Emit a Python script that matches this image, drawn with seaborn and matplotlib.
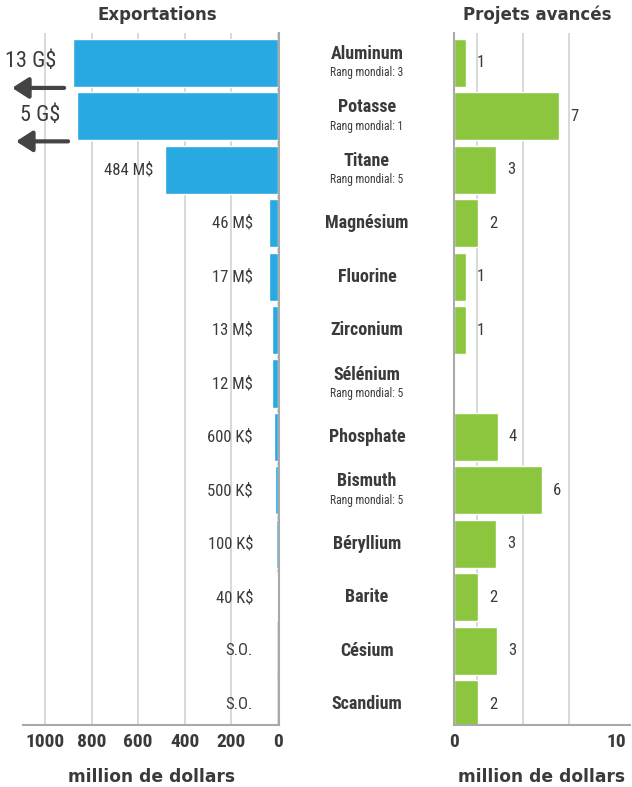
import numpy as np
import pandas as pd
import matplotlib
matplotlib.use("Agg")
import matplotlib.pyplot as plt
import seaborn as sns
from matplotlib import transforms
from matplotlib import font_manager as fm

# Data
minerals = ["Aluminum", "Potasse", "Titane", "Magnésium", "Fluorine", "Zirconium",
            "Sélénium", "Phosphate", "Bismuth", "Béryllium", "Barite", "Césium", "Scandium"]
rank_labels = ["Rang mondial: 3", "Rang mondial: 1", "Rang mondial: 5", "", "", "",
               "Rang mondial: 5", "", "Rang mondial: 5", "", "", "", ""]
export_labels = ["13 G$", "5 G$", "484 M$", "46 M$", "17 M$", "13 M$", "12 M$",
                 "600 K$", "500 K$", "100 K$", "40 K$", "S.O.", "S.O."]
# bar lengths as drawn (million $) -- the two biggest are cut off
export_bar = [879, 862, 484, 40, 40, 26, 26, 17, 12, 9, 6, 0, 0]
project_labels = ["1", "7", "3", "2", "1", "1", "", "4", "6", "3", "2", "3", "2"]
project_bar = [0.74, 6.5, 2.6, 1.48, 0.74, 0.74, 0, 2.7, 5.4, 2.6, 1.48, 2.65, 1.48]
left_ticks = [0, 200, 400, 600, 800, 1000]
right_ticks = [0, 10]
right_grid = [1.42, 4.26, 7.1, 10]

df = pd.DataFrame({"mineral": minerals, "export": export_bar, "projets": project_bar})

sns.set_style("white")

# look for a narrow face, the reference uses a condensed gothic
entries = fm.fontManager.ttflist
names = sorted({f.name for f in entries})
pref = ["Liberation Sans Narrow", "Roboto Condensed", "Open Sans Condensed",
        "DejaVu Sans Condensed", "Noto Sans Condensed", "Arial Narrow"]
family = next((n for n in pref if n in names), None)
if family is None:
    family = next((n for n in names if "Condensed" in n or "Narrow" in n), None)
stretch = "normal"
if family is None:
    cond = [f for f in entries if str(f.stretch) in ("condensed", "semi-condensed", "extra-condensed")]
    if cond:
        family = cond[0].name
        stretch = "condensed"
scale = 1.0
if family is None:
    family = "DejaVu Sans"
    scale = 0.78
plt.rcParams["font.family"] = [family, "DejaVu Sans"]
plt.rcParams["font.stretch"] = stretch
wide = ["DejaVu Sans"]  # headers are letter-spaced in the reference

blue = "#29a9e1"
green = "#8cc63f"
txt = "#3a3a3a"
grid_c = "#d6d6d6"
spine_c = "#a9a9a9"

fig = plt.figure(figsize=(6.32, 7.87), dpi=100)
ax1 = fig.add_axes([23 / 632, 1 - 725 / 787, 256 / 632, 692 / 787])
ax2 = fig.add_axes([454 / 632, 1 - 725 / 787, 176 / 632, 692 / 787])

sns.barplot(data=df, x="export", y="mineral", orient="h", color=blue, width=0.9,
            saturation=1, ax=ax1, zorder=2)
sns.barplot(data=df, x="projets", y="mineral", orient="h", color=green, width=0.9,
            saturation=1, ax=ax2, zorder=2)

ylim = (12.39, -0.56)
ax1.set_xlim(1094, -4)
ax2.set_xlim(0, 10.86)
for ax in (ax1, ax2):
    ax.set_ylim(*ylim)
    ax.set_ylabel("")
    ax.set_yticks([])
    ax.set_axisbelow(True)
    ax.tick_params(axis="x", length=0, pad=6, labelsize=14 * scale, labelcolor=txt)
    ax.set_xlabel("million de dollars", fontsize=12.3, fontweight="bold",
                  family=wide, color=txt, labelpad=12)

ax1.set_xticks(left_ticks)
ax1.set_xticklabels([str(t) for t in left_ticks], fontweight="bold")
ax1.grid(axis="x", color=grid_c, lw=1.3)
ax2.set_xticks(right_ticks)
ax2.set_xticklabels([str(t) for t in right_ticks], fontweight="bold")
ax2.set_xticks(right_grid, minor=True)
ax2.tick_params(axis="x", which="minor", length=0)
ax2.grid(axis="x", which="minor", color=grid_c, lw=1.3)
ax2.grid(axis="x", which="major", visible=False)

for side in ["top", "left"]:
    ax1.spines[side].set_visible(False)
for side in ["top", "right"]:
    ax2.spines[side].set_visible(False)
for sp in [ax1.spines["right"], ax1.spines["bottom"], ax2.spines["left"], ax2.spines["bottom"]]:
    sp.set_color(spine_c)
    sp.set_linewidth(1.5)

# export value labels
for i, (lab, val) in enumerate(zip(export_labels, export_bar)):
    if val > 800:
        ax1.annotate(lab, xy=(val, i), xytext=(-17, 1), textcoords="offset pixels",
                     ha="right", va="center", fontsize=16 * scale, color=txt,
                     annotation_clip=False)
        head = transforms.offset_copy(ax1.transData, fig, x=-61, y=-25, units="dots")
        tail = transforms.offset_copy(ax1.transData, fig, x=-9, y=-25, units="dots")
        ax1.annotate("", xy=(val, i), xycoords=head, xytext=(val, i), textcoords=tail,
                     arrowprops=dict(arrowstyle="-|>,head_length=0.7,head_width=0.45",
                                     lw=3, color="#444444", mutation_scale=14,
                                     shrinkA=0, shrinkB=0),
                     annotation_clip=False)
    elif val > 100:
        ax1.annotate(lab, xy=(val, i), xytext=(-12, 0), textcoords="offset pixels",
                     ha="right", va="center", fontsize=12 * scale, color=txt)
    else:
        ax1.annotate(lab, xy=(0, i), xytext=(-25, 0), textcoords="offset pixels",
                     ha="right", va="center", fontsize=12 * scale, color=txt)

# project value labels
for i, (lab, val) in enumerate(zip(project_labels, project_bar)):
    if lab:
        ax2.annotate(lab, xy=(val, i), xytext=(11, 0), textcoords="offset pixels",
                     ha="left", va="center", fontsize=12 * scale, color=txt)

# mineral names in the middle
mid = transforms.blended_transform_factory(fig.transFigure, ax1.transData)
for i, (name, rank) in enumerate(zip(minerals, rank_labels)):
    if rank:
        ax1.annotate(name, xy=(367 / 632, i), xycoords=mid, xytext=(0, 9),
                     textcoords="offset pixels", ha="center", va="center",
                     fontsize=13 * scale, fontweight="bold", color=txt, annotation_clip=False)
        ax1.annotate(rank, xy=(367 / 632, i), xycoords=mid, xytext=(0, -10),
                     textcoords="offset pixels", ha="center", va="center",
                     fontsize=8.3 * scale, color=txt, annotation_clip=False)
    else:
        ax1.annotate(name, xy=(367 / 632, i), xycoords=mid, ha="center", va="center",
                     fontsize=13 * scale, fontweight="bold", color=txt, annotation_clip=False)

fig.text(157 / 632, 1 - 15 / 787, "Exportations", ha="center", va="center",
         fontsize=12, fontweight="bold", family=wide, color=txt)
fig.text(537 / 632, 1 - 15 / 787, "Projets avancés", ha="center", va="center",
         fontsize=12, fontweight="bold", family=wide, color=txt)

fig.savefig("out.png", dpi=100, facecolor="white")
